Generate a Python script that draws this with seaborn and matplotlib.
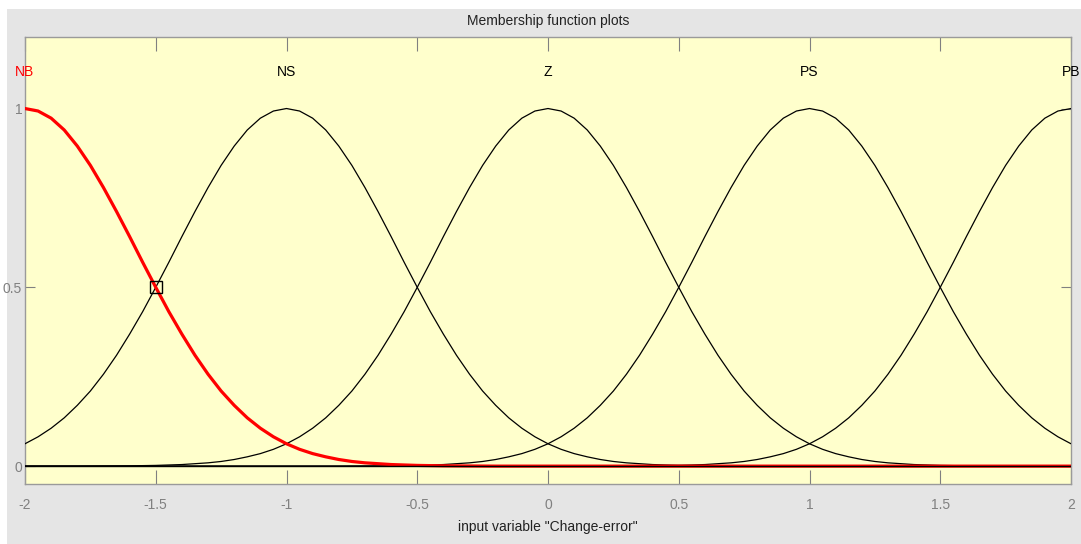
import numpy as np
import pandas as pd
import matplotlib
matplotlib.use("Agg")
import matplotlib.pyplot as plt
import seaborn as sns
from matplotlib.patches import Rectangle

# ---- data ----
mf_names = ["NB", "NS", "Z", "PS", "PB"]
mf_centers = [-2.0, -1.0, 0.0, 1.0, 2.0]
# membership value vs distance from the centre (same bell shape for every MF)
shape_offsets = [0.0, 0.05, 0.10, 0.15, 0.20, 0.25, 0.30, 0.35, 0.40, 0.45, 0.50,
                 0.55, 0.60, 0.65, 0.70, 0.75, 0.80, 0.85, 0.90, 0.95, 1.00,
                 1.05, 1.10, 1.15, 1.20, 1.25, 1.30, 1.40, 1.50, 1.60, 1.80,
                 2.00, 2.50, 3.00, 3.50, 4.00]
shape_values = [1.000, 0.993, 0.973, 0.940, 0.895, 0.841, 0.779, 0.712, 0.642, 0.570, 0.500,
                0.432, 0.369, 0.310, 0.257, 0.210, 0.170, 0.135, 0.106, 0.082, 0.0625,
                0.047, 0.035, 0.026, 0.0185, 0.013, 0.0092, 0.0044, 0.0020, 0.0008, 0.0,
                0.0, 0.0, 0.0, 0.0, 0.0]
x_ticks = [-2, -1.5, -1, -0.5, 0, 0.5, 1, 1.5, 2]
x_tick_labels = ["-2", "-1.5", "-1", "-0.5", "0", "0.5", "1", "1.5", "2"]
y_ticks = [0, 0.5, 1]
y_tick_labels = ["0", "0.5", "1"]
selected_point = (-1.5, 0.5)
title_text = "Membership function plots"
xlabel_text = 'input variable "Change-error"'

# ---- build table ----
rows = []
for name, c in zip(mf_names, mf_centers):
    for d, v in zip(shape_offsets, shape_values):
        for sgn in ([1] if d == 0 else [-1, 1]):
            x = c + sgn * d
            if -2.0 - 1e-9 <= x <= 2.0 + 1e-9:
                rows.append({"mf": name, "x": x, "mu": v})
df = pd.DataFrame(rows)

sns.set_theme(style="white")
plt.rcParams["font.family"] = ["Liberation Sans", "DejaVu Sans"]
FS = 10

fig = plt.figure(figsize=(10.81, 5.44), dpi=100)
fig.patch.set_facecolor("white")
fig.patches.append(Rectangle((7 / 1081, 0), 1, 1 - 9 / 544, transform=fig.transFigure,
                             facecolor="#e5e5e5", edgecolor="none", zorder=-10))

ax = fig.add_axes([25 / 1081, 1 - 484 / 544, 1046 / 1081, 447 / 544])
ax.set_facecolor("#ffffcc")

for name in mf_names:
    if name == "NB":
        continue
    sub = df[df["mf"] == name].sort_values("x")
    sns.lineplot(data=sub, x="x", y="mu", ax=ax, color="black", lw=0.9,
                 estimator=None, sort=True, zorder=3)
sub = df[df["mf"] == "NB"].sort_values("x")
sns.lineplot(data=sub, x="x", y="mu", ax=ax, color="red", lw=2.3,
             estimator=None, sort=True, zorder=4)
ax.axhline(0, color="black", lw=1.0, zorder=5)

ax.plot([selected_point[0]], [selected_point[1]], marker="s", ms=9, mfc="none",
        mec="black", mew=1.0, zorder=6)

for name, c in zip(mf_names, mf_centers):
    ax.text(c, 1.101, name, ha="center", va="center", fontsize=FS,
            color="red" if name == "NB" else "black", zorder=7)

ax.set_xlim(-2, 2)
ax.set_ylim(-0.05, 1.2)
ax.set_xticks(x_ticks)
ax.set_xticklabels(x_tick_labels)
ax.set_yticks(y_ticks)
ax.set_yticklabels(y_tick_labels)
ax.tick_params(axis="x", direction="in", length=10, width=0.8, color="#808080",
               labelcolor="#808080", labelsize=FS, pad=10, top=True, bottom=True)
ax.tick_params(axis="y", direction="in", length=7, width=0.8, color="#808080",
               labelcolor="#808080", labelsize=FS, pad=2, left=True, right=True)
for sp in ax.spines.values():
    sp.set_color("#9a9a9a")
    sp.set_linewidth(1.0)

ax.set_xlabel(xlabel_text, fontsize=FS, color="#222222", labelpad=6)
ax.set_ylabel("")
ax.set_title(title_text, fontsize=FS, color="#222222", pad=9)

fig.savefig("out.png", dpi=100, facecolor=fig.get_facecolor())
